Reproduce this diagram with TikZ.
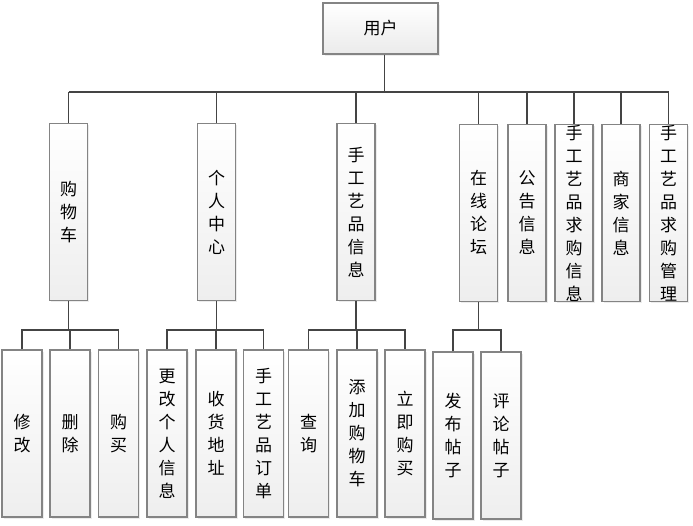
\documentclass[tikz,border=0pt]{standalone}
\usepackage{fontspec}
\newfontfamily\cjk{Noto Sans CJK SC}
\usetikzlibrary{shadows}

\begin{document}
\begin{tikzpicture}[x=1pt, y=-1pt,
  box/.style={draw=boxline, line width=1.1pt, top color=white, bottom color=boxfill,
    inner sep=0pt, align=center, font=\cjk\fontsize{17}{23}\selectfont,
    drop shadow={shadow xshift=1.5pt, shadow yshift=-1.5pt, opacity=0.15}},
  midbox/.style={box, minimum width=38pt, minimum height=177pt},
  leafbox/.style={box, minimum width=40pt, minimum height=167pt},
  link/.style={draw=linkcol, line width=1.3pt}]
  % 定义颜色
  \definecolor{boxline}{RGB}{132,132,132}
  \definecolor{boxfill}{RGB}{238,238,238}
  \definecolor{linkcol}{RGB}{68,68,68}

  \useasboundingbox (0,0) rectangle (693,525);

  % 顶层：用户
  \node[box, minimum width=115pt, minimum height=51pt, bottom color=gray!16] (user) at (380.5,28.5) {用户};

  % 第二层：功能模块
  \node[midbox] (cart)    at (68.5,212)  {购\\物\\车};
  \node[midbox] (home)    at (216.5,212) {个\\人\\中\\心};
  \node[midbox] (craft)   at (356,212)   {手\\工\\艺\\品\\信\\息};
  \node[midbox] (forum)   at (478.5,213) {在\\线\\论\\坛};
  \node[midbox] (notice)  at (527,213)   {公\\告\\信\\息};
  \node[midbox] (wanted)  at (574,213)   {手\\工\\艺\\品\\求\\购\\信\\息};
  \node[midbox] (shop)    at (621,213)   {商\\家\\信\\息};
  \node[midbox] (wantmgr) at (668.5,213) {手\\工\\艺\\品\\求\\购\\管\\理};

  % 第三层：子功能
  \node[leafbox] (edit)    at (22,433.5)    {修\\改};
  \node[leafbox] (del)     at (70,433.5)    {删\\除};
  \node[leafbox] (buy)     at (118.5,433.5) {购\\买};
  \node[leafbox] (info)    at (167,433.5)   {更\\改\\个\\人\\信\\息};
  \node[leafbox] (addr)    at (216,433.5)   {收\\货\\地\\址};
  \node[leafbox] (order)   at (263.5,433.5) {手\\工\\艺\\品\\订\\单};
  \node[leafbox] (query)   at (308.5,433.5) {查\\询};
  \node[leafbox] (addcart) at (357,433.5)   {添\\加\\购\\物\\车};
  \node[leafbox] (buynow)  at (405,433.5)   {立\\即\\购\\买};
  \node[leafbox] (post)    at (453,435.5)   {发\\布\\帖\\子};
  \node[leafbox] (reply)   at (501,435.5)   {评\\论\\帖\\子};

  % 总线高度
  \coordinate (bus) at (0,92);
  \coordinate (sub) at (0,330);

  % 用户 -> 第二层
  \draw[link] ([xshift=4pt]user.south) -- ([xshift=4pt]user.south |- bus);
  \draw[link] (cart.north |- bus) -- (wantmgr.north |- bus);
  \draw[link] (cart.north) -- (cart.north |- bus);
  \draw[link] (home.north) -- (home.north |- bus);
  \draw[link] (craft.north) -- (craft.north |- bus);
  \draw[link] (forum.north) -- (forum.north |- bus);
  \draw[link] (notice.north) -- (notice.north |- bus);
  \draw[link] (wanted.north) -- (wanted.north |- bus);
  \draw[link] (shop.north) -- (shop.north |- bus);
  \draw[link] (wantmgr.north) -- (wantmgr.north |- bus);

  % 购物车 -> 子功能
  \draw[link] (cart.south) -- (cart.south |- sub);
  \draw[link] (edit.north) |- (buy.north |- sub) -- (buy.north);
  \draw[link] (del.north) -- (del.north |- sub);

  % 个人中心 -> 子功能
  \draw[link] (home.south) -- (home.south |- sub);
  \draw[link] (info.north) |- (order.north |- sub) -- (order.north);
  \draw[link] (addr.north) -- (addr.north |- sub);

  % 手工艺品信息 -> 子功能
  \draw[link] (craft.south) -- (craft.south |- sub);
  \draw[link] (query.north) |- (buynow.north |- sub) -- (buynow.north);
  \draw[link] (addcart.north) -- (addcart.north |- sub);

  % 在线论坛 -> 子功能
  \draw[link] (forum.south) -- (forum.south |- sub);
  \draw[link] (post.north) |- (reply.north |- sub) -- (reply.north);

\end{tikzpicture}
\end{document}
